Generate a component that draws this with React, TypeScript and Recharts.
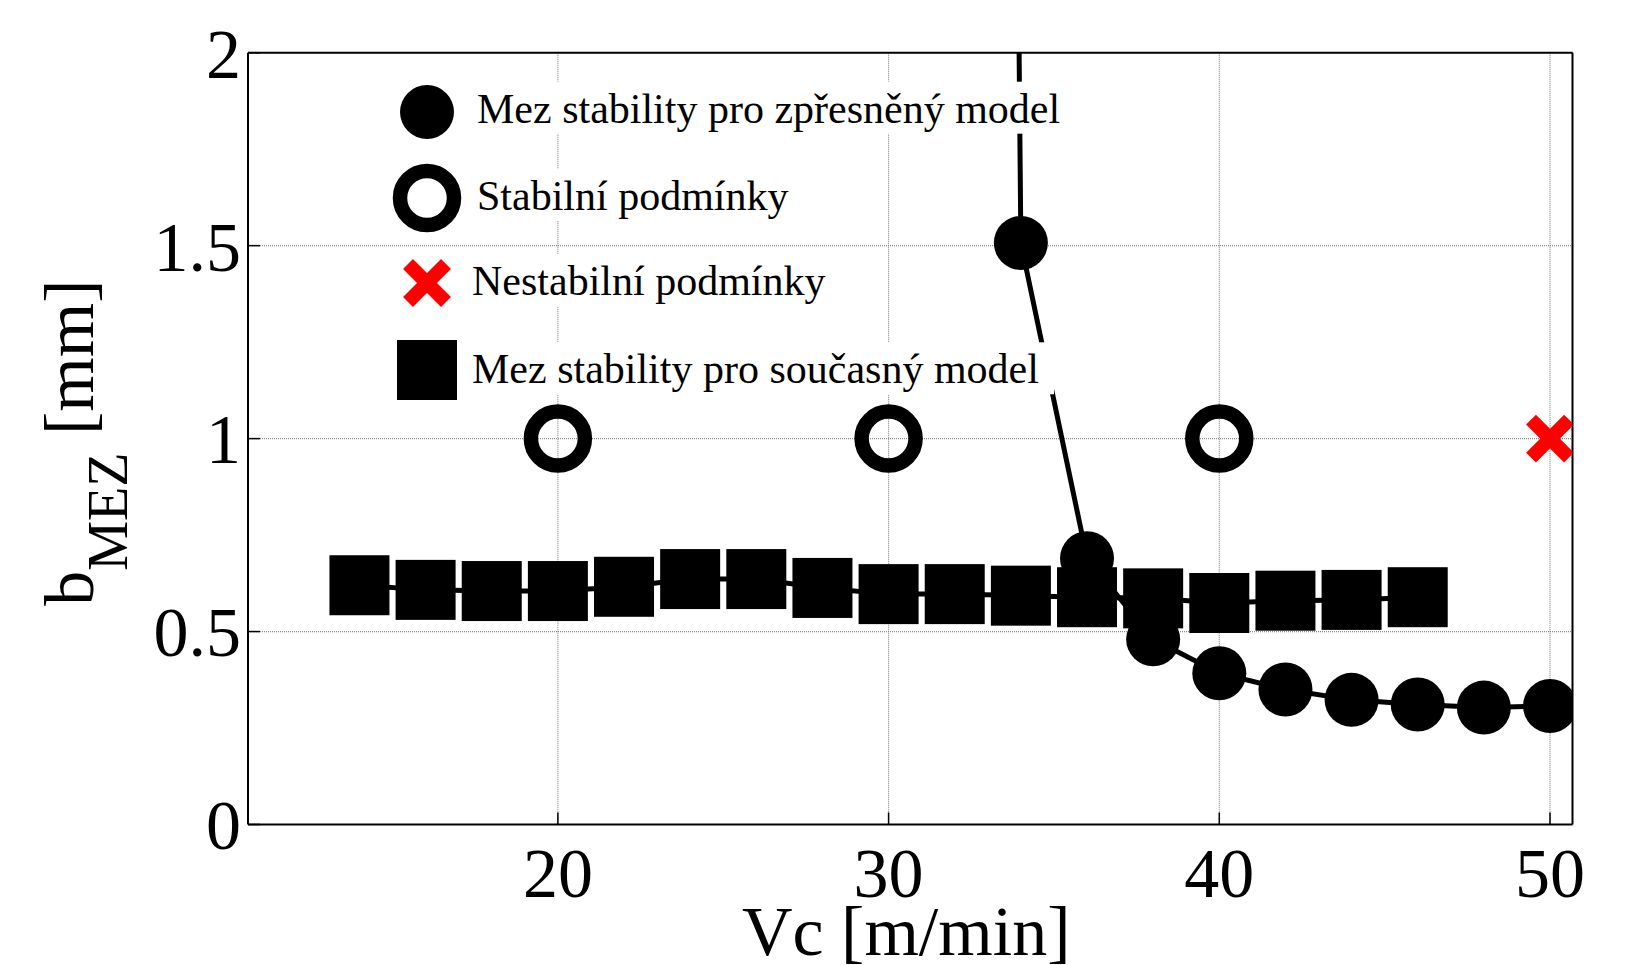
import React from 'react';
import {
  ComposedChart,
  Line,
  Scatter,
  XAxis,
  YAxis,
  CartesianGrid,
  ReferenceLine,
} from 'recharts';

// ---------- data ----------
const refinedX = [32, 34, 36, 38, 40, 42, 44, 46, 48, 50];
const refinedY = [20, 1.507, 0.69, 0.48, 0.392, 0.35, 0.323, 0.311, 0.303, 0.307];

const currentX = [14, 16, 18, 20, 22, 24, 26, 28, 30, 32, 34, 36, 38, 40, 42, 44, 46];
const currentY = [0.62, 0.608, 0.605, 0.605, 0.616, 0.636, 0.636, 0.613, 0.597, 0.597, 0.593, 0.589, 0.586, 0.574, 0.58, 0.582, 0.589];

const stableX = [20, 30, 40];
const stableY = [1, 1, 1];

const unstableX = [50];
const unstableY = [1];

const xTicks = [20, 30, 40, 50];
const yTicks = [0, 0.5, 1, 1.5, 2];
const xDomain: [number, number] = [10.63, 50.68];
const yDomain: [number, number] = [0, 2];

const legendLabels = [
  'Mez stability pro zpřesněný model',
  'Stabilní podmínky',
  'Nestabilní podmínky',
  'Mez stability pro současný model',
];
const xLabel = 'Vc [m/min]';
const yLabelMain = 'b';
const yLabelSub = 'MEZ';
const yLabelUnit = ' [mm]';

// ---------- helpers ----------
const zip = (xs: number[], ys: number[]) => xs.map((x, i) => ({ x, y: ys[i] }));
const refinedData = zip(refinedX, refinedY);
const currentData = zip(currentX, currentY);
const stableData = zip(stableX, stableY);
const unstableData = zip(unstableX, unstableY);

const FONT = "'Liberation Serif', 'Times New Roman', serif";
const RED = '#ff0000';

const FilledCircle = (p: any) => <circle cx={p.cx} cy={p.cy} r={27} fill="#000" />;
const OpenCircle = (p: any) => (
  <circle cx={p.cx} cy={p.cy} r={27} fill="none" stroke="#000" strokeWidth={14.5} />
);
const FilledSquare = (p: any) => <rect x={p.cx - 30} y={p.cy - 30} width={60} height={60} fill="#000" />;
const RedCross = (p: any) => (
  <g>
    <line x1={p.cx - 19} y1={p.cy - 19} x2={p.cx + 19} y2={p.cy + 19} stroke={RED} strokeWidth={14} />
    <line x1={p.cx - 19} y1={p.cy + 19} x2={p.cx + 19} y2={p.cy - 19} stroke={RED} strokeWidth={14} />
  </g>
);

const XLabel = (props: any) => {
  const vb = props.viewBox || { x: 248, y: 824.5, width: 1324.5, height: 60 };
  return (
    <text x={vb.x + vb.width / 2 - 4} y={vb.y + 130.5} textAnchor="middle" fontFamily={FONT} fontSize={70} fill="#000">
      {xLabel}
    </text>
  );
};

const YLabel = (props: any) => {
  const vb = props.viewBox || { x: 148, y: 52.7, width: 100, height: 771.8 };
  const bx = vb.x - 55;
  const cy = vb.y + vb.height / 2 + 4;
  return (
    <text transform={`translate(${bx},${cy}) rotate(-90)`} textAnchor="middle" fontFamily={FONT} fontSize={70} fill="#000">
      <tspan>{yLabelMain}</tspan>
      <tspan fontSize={56} dy={34}>{yLabelSub}</tspan>
      <tspan dy={-34}>{yLabelUnit}</tspan>
    </text>
  );
};

// legend layout (pixels)
const legendRows = [
  { mx: 427, my: 112, tx: 477, ty: 122.7, w: 578, kind: 'filled' },
  { mx: 427, my: 198, tx: 477, ty: 210, w: 308, kind: 'open' },
  { mx: 427, my: 283, tx: 472, ty: 295, w: 351, kind: 'cross' },
  { mx: 427, my: 370, tx: 472, ty: 383.3, w: 562, kind: 'square' },
];

const LegendOverlay = () => (
  <svg
    width={1626}
    height={965}
    style={{ position: 'absolute', left: 0, top: 0, pointerEvents: 'none' }}
  >
    {legendRows.map((r, i) => (
      <g key={i}>
        <rect x={r.tx - 6} y={r.ty - 41} width={r.w + 26} height={52} fill="#fff" />
        <text x={r.tx} y={r.ty} fontFamily={FONT} fontSize={42} fill="#000">
          {legendLabels[i]}
        </text>
        {r.kind === 'filled' && <FilledCircle cx={r.mx} cy={r.my} />}
        {r.kind === 'open' && <OpenCircle cx={r.mx} cy={r.my} />}
        {r.kind === 'cross' && <RedCross cx={r.mx} cy={r.my} />}
        {r.kind === 'square' && <FilledSquare cx={r.mx} cy={r.my} />}
      </g>
    ))}
  </svg>
);

const tickStyle = { fontSize: 70, fill: '#000', fontFamily: FONT };

export default function App() {
  return (
    <div style={{ position: 'absolute', left: 0, top: 0, width: 1626, height: 965, background: '#fff' }}>
      <ComposedChart
        width={1626}
        height={965}
        margin={{ top: 52.7, right: 53.5, bottom: 80.5, left: 148 }}
      >
        <CartesianGrid stroke="#8a8a8a" strokeDasharray="1 1" strokeWidth={1.2} />
        <XAxis
          type="number"
          dataKey="x"
          domain={xDomain}
          ticks={xTicks}
          allowDataOverflow
          height={60}
          tickSize={-12}
          tickMargin={35}
          tick={tickStyle}
          axisLine={{ stroke: '#000', strokeWidth: 2 }}
          tickLine={{ stroke: '#000', strokeWidth: 1.5 }}
          label={<XLabel />}
        />
        <YAxis
          type="number"
          dataKey="y"
          domain={yDomain}
          ticks={yTicks}
          allowDataOverflow
          width={100}
          tickSize={-12}
          tickMargin={19}
          tick={tickStyle}
          axisLine={{ stroke: '#000', strokeWidth: 2 }}
          tickLine={{ stroke: '#000', strokeWidth: 1.5 }}
          label={<YLabel />}
        />
        <ReferenceLine y={2} stroke="#000" strokeWidth={2} />
        <ReferenceLine x={xDomain[1]} stroke="#000" strokeWidth={2} />
        <Line data={currentData} dataKey="y" stroke="#000" strokeWidth={5} dot={false} isAnimationActive={false} />
        <Scatter data={currentData} dataKey="y" shape={FilledSquare} isAnimationActive={false} />
        <Line data={refinedData} dataKey="y" stroke="#000" strokeWidth={5} dot={false} isAnimationActive={false} />
        <Scatter data={refinedData} dataKey="y" shape={FilledCircle} isAnimationActive={false} />
        <Scatter data={stableData} dataKey="y" shape={OpenCircle} isAnimationActive={false} />
        <Scatter data={unstableData} dataKey="y" shape={RedCross} isAnimationActive={false} />
      </ComposedChart>
      <LegendOverlay />
    </div>
  );
}
